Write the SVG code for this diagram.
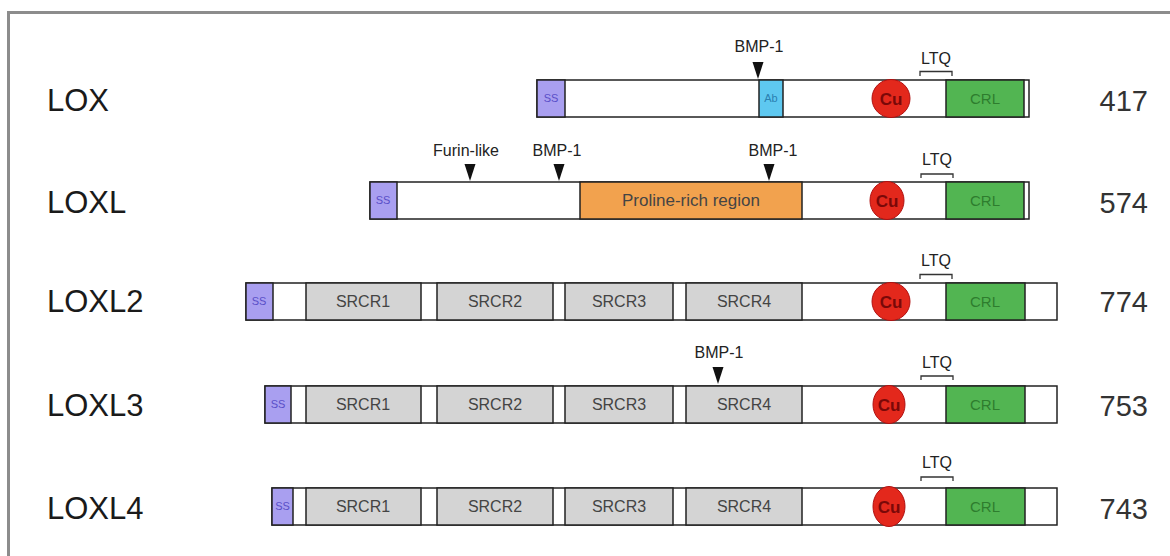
<svg xmlns="http://www.w3.org/2000/svg" width="1170" height="556" viewBox="0 0 1170 556">
<defs>
<style>
.bar{fill:#fff;stroke:#222;stroke-width:1.5}
.seg{stroke:#222;stroke-width:1.5}
.ss{fill:#a99ff0}
.ab{fill:#5ec8f0}
.srcr{fill:#d4d4d4}
.pro{fill:#f2a24e}
.crl{fill:#52b552}
.cu{fill:#e3281c;stroke:#b01010;stroke-width:1}
.name{font-family:"Liberation Sans",Arial,sans-serif;font-size:31px;fill:#1a1a1a}
.len{font-family:"Liberation Sans",Arial,sans-serif;font-size:29px;fill:#333;text-anchor:end}
.lbl{font-family:"Liberation Sans",Arial,sans-serif;font-size:16px;fill:#222;text-anchor:middle}
.in{font-family:"Liberation Sans",Arial,sans-serif;font-size:16px;fill:#444;text-anchor:middle}
.sst{font-family:"Liberation Sans",Arial,sans-serif;font-size:11px;fill:#5a4fc8;text-anchor:middle}
.abt{font-family:"Liberation Sans",Arial,sans-serif;font-size:11px;fill:#2a7fb0;text-anchor:middle}
.cut{font-family:"Liberation Sans",Arial,sans-serif;font-size:17px;font-weight:bold;fill:#7a0808;text-anchor:middle}
.crlt{font-family:"Liberation Sans",Arial,sans-serif;font-size:15px;fill:#2e7d2e;text-anchor:middle}
.br{fill:none;stroke:#333;stroke-width:1.3}
</style>
<path id="tri" d="M-5.5,0 L5.5,0 L0,17 Z" fill="#111"/>
</defs>
<rect width="1170" height="556" fill="#fff"/>
<rect x="8.5" y="12.5" width="1175" height="560" fill="none" stroke="#8c8c8c" stroke-width="3"/>

<g id="connectors"></g>

<g id="LOX">
<text class="name" x="47" y="111">LOX</text>
<rect class="bar" x="537" y="80" width="492" height="37"/>
<rect class="seg ss" x="537" y="80" width="28" height="37"/>
<text class="sst" x="551" y="102">SS</text>
<rect class="seg ab" x="759" y="80" width="24" height="37"/>
<text class="abt" x="771" y="102">Ab</text>
<rect class="seg crl" x="946" y="80" width="78" height="37"/>
<text class="crlt" x="985" y="104">CRL</text>
<circle class="cu" cx="891" cy="98.5" r="19"/>
<text class="cut" x="891" y="104.5">Cu</text>
<text class="lbl" x="759" y="52">BMP-1</text>
<use href="#tri" x="758" y="62"/>
<text class="lbl" x="936" y="64">LTQ</text>
<path class="br" d="M920,76 V71.5 H952 V76"/>
<text class="len" x="1148" y="111">417</text>
</g>

<g id="LOXL">
<text class="name" x="47" y="213">LOXL</text>
<rect class="bar" x="370" y="182" width="659" height="37"/>
<rect class="seg ss" x="370" y="182" width="27" height="37"/>
<text class="sst" x="383" y="204">SS</text>
<rect class="seg pro" x="580" y="182" width="222" height="37"/>
<text class="in" x="691" y="206" style="font-size:17px">Proline-rich region</text>
<rect class="seg crl" x="946" y="182" width="78" height="37"/>
<text class="crlt" x="985" y="206">CRL</text>
<ellipse class="cu" cx="887" cy="200.5" rx="17" ry="19"/>
<text class="cut" x="887" y="206.5">Cu</text>
<text class="lbl" x="466" y="156">Furin-like</text>
<use href="#tri" x="470" y="164"/>
<text class="lbl" x="557" y="156">BMP-1</text>
<use href="#tri" x="559" y="164"/>
<text class="lbl" x="773" y="156">BMP-1</text>
<use href="#tri" x="769" y="164"/>
<text class="lbl" x="937" y="165">LTQ</text>
<path class="br" d="M921,178 V174 H953 V178"/>
<text class="len" x="1148" y="213">574</text>
</g>

<g id="LOXL2">
<text class="name" x="47" y="312">LOXL2</text>
<rect class="bar" x="246" y="283" width="811" height="37"/>
<rect class="seg ss" x="246" y="283" width="27" height="37"/>
<text class="sst" x="259" y="305">SS</text>
<rect class="seg srcr" x="306" y="283" width="115" height="37"/>
<text class="in" x="363" y="307">SRCR1</text>
<rect class="seg srcr" x="437" y="283" width="116" height="37"/>
<text class="in" x="495" y="307">SRCR2</text>
<rect class="seg srcr" x="565" y="283" width="108" height="37"/>
<text class="in" x="619" y="307">SRCR3</text>
<rect class="seg srcr" x="686" y="283" width="116" height="37"/>
<text class="in" x="744" y="307">SRCR4</text>
<rect class="seg crl" x="946" y="283" width="79" height="37"/>
<text class="crlt" x="985" y="307">CRL</text>
<circle class="cu" cx="891" cy="301.5" r="19"/>
<text class="cut" x="891" y="307.5">Cu</text>
<text class="lbl" x="936" y="266">LTQ</text>
<path class="br" d="M920,279 V274.5 H952 V279"/>
<text class="len" x="1148" y="312">774</text>
</g>

<g id="LOXL3">
<text class="name" x="47" y="416">LOXL3</text>
<rect class="bar" x="265" y="386" width="792" height="37"/>
<rect class="seg ss" x="265" y="386" width="26" height="37"/>
<text class="sst" x="278" y="408">SS</text>
<rect class="seg srcr" x="306" y="386" width="115" height="37"/>
<text class="in" x="363" y="410">SRCR1</text>
<rect class="seg srcr" x="437" y="386" width="116" height="37"/>
<text class="in" x="495" y="410">SRCR2</text>
<rect class="seg srcr" x="565" y="386" width="108" height="37"/>
<text class="in" x="619" y="410">SRCR3</text>
<rect class="seg srcr" x="686" y="386" width="116" height="37"/>
<text class="in" x="744" y="410">SRCR4</text>
<rect class="seg crl" x="946" y="386" width="79" height="37"/>
<text class="crlt" x="985" y="410">CRL</text>
<ellipse class="cu" cx="889" cy="404.5" rx="16" ry="19"/>
<text class="cut" x="889" y="410.5">Cu</text>
<text class="lbl" x="719" y="358">BMP-1</text>
<use href="#tri" x="718" y="367"/>
<text class="lbl" x="937" y="368">LTQ</text>
<path class="br" d="M921,380 V376 H953 V380"/>
<text class="len" x="1148" y="416">753</text>
</g>

<g id="LOXL4">
<text class="name" x="47" y="519">LOXL4</text>
<rect class="bar" x="272" y="488" width="785" height="37"/>
<rect class="seg ss" x="272" y="488" width="21" height="37"/>
<text class="sst" x="282.5" y="510">SS</text>
<rect class="seg srcr" x="306" y="488" width="115" height="37"/>
<text class="in" x="363" y="512">SRCR1</text>
<rect class="seg srcr" x="437" y="488" width="116" height="37"/>
<text class="in" x="495" y="512">SRCR2</text>
<rect class="seg srcr" x="565" y="488" width="108" height="37"/>
<text class="in" x="619" y="512">SRCR3</text>
<rect class="seg srcr" x="686" y="488" width="116" height="37"/>
<text class="in" x="744" y="512">SRCR4</text>
<rect class="seg crl" x="946" y="488" width="79" height="37"/>
<text class="crlt" x="985" y="512">CRL</text>
<ellipse class="cu" cx="889" cy="506.5" rx="16" ry="20"/>
<text class="cut" x="889" y="512.5">Cu</text>
<text class="lbl" x="937" y="468">LTQ</text>
<path class="br" d="M921,481 V477 H953 V481"/>
<text class="len" x="1148" y="519">743</text>
</g>
</svg>
